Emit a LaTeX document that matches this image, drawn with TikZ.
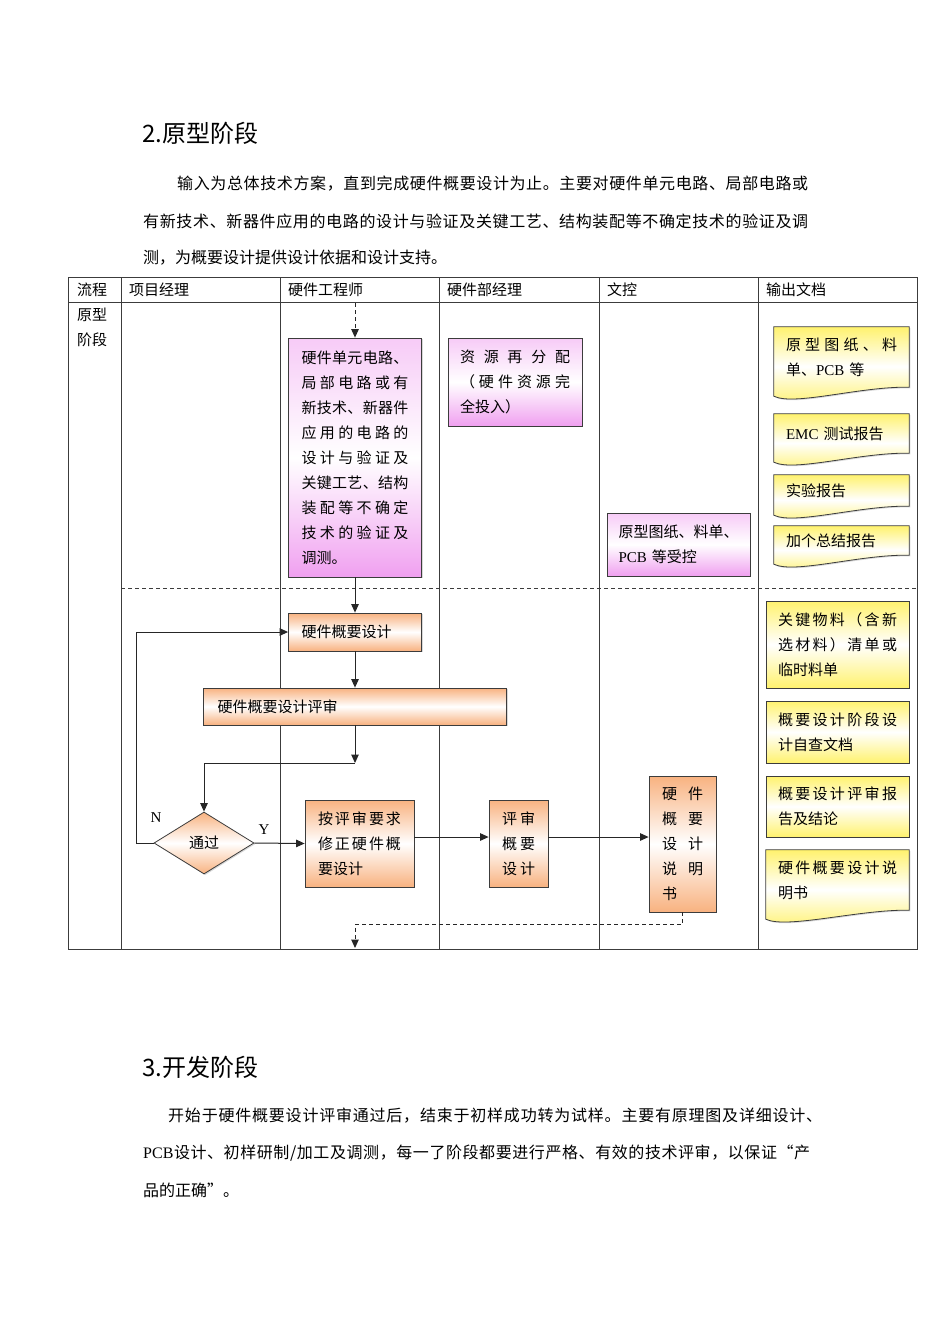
\documentclass[tikz,border=0pt]{standalone}
\usepackage{fontspec}
\setmainfont{Noto Sans CJK SC}
\newfontfamily\en{Liberation Serif}
\usetikzlibrary{arrows.meta,positioning,shapes.geometric,calc,shadows,backgrounds}

\definecolor{pinkc}{RGB}{240,160,240}
\definecolor{orangec}{RGB}{248,178,128}
\definecolor{yellowc}{RGB}{255,242,110}
\definecolor{linec}{RGB}{60,60,60}

% spread the characters of one line over a given width
\def\sprEnd{\sprStop}
\let\sprStop\relax
\def\spr#1{\sprA#1\sprStop}
\def\sprA#1{\def\sprT{#1}\ifx\sprT\sprEnd\else#1\expandafter\sprB\fi}
\def\sprB#1{\def\sprT{#1}\ifx\sprT\sprEnd\else\hfil#1\expandafter\sprB\fi}
\newcommand\jl[1]{\makebox[\linewidth][s]{\spr{#1}}}

\tikzset{
  tbl/.style={line width=0.8pt, draw=linec},
  hd/.style={anchor=west, inner sep=0pt, font=\fontsize{15pt}{25pt}\selectfont},
  bx/.style={rectangle, draw=linec, line width=0.8pt, align=left, inner sep=0pt,
             font=\fontsize{15pt}{25pt}\selectfont,
             drop shadow={shadow xshift=1.2pt, shadow yshift=-1.2pt, opacity=0.3}},
  pbox/.style={bx, top color=pinkc!55, bottom color=pinkc, middle color=white},
  obox/.style={bx, top color=orangec, bottom color=orangec, middle color=white},
  ybox/.style={bx, top color=yellowc, bottom color=yellowc, middle color=white},
  ydoc/.style={rectangle, align=left, inner sep=0pt, font=\fontsize{15pt}{25pt}\selectfont},
  docln/.style={draw=linec, line width=0.8pt, top color=yellowc, bottom color=yellowc, middle color=white,
                drop shadow={shadow xshift=1.2pt, shadow yshift=-1.2pt, opacity=0.3}},
  dec/.style={diamond, aspect=1.6, draw=linec, line width=0.8pt, inner sep=0pt,
              top color=orangec, bottom color=orangec, middle color=white,
              font=\fontsize{15pt}{15pt}\selectfont,
              drop shadow={shadow xshift=1.2pt, shadow yshift=-1.2pt, opacity=0.3}},
  ar/.style={-{Triangle[length=8.5pt,width=7.5pt]}, line width=1pt, draw=black!85},
  dar/.style={ar, dash pattern=on 4pt off 3pt},
  yn/.style={inner sep=0pt, font=\en\fontsize{15pt}{15pt}\selectfont},
  para/.style={anchor=west, inner sep=0pt, font=\fontsize{16pt}{16pt}\selectfont},
  ttl/.style={anchor=west, inner sep=0pt, font=\fontsize{24pt}{24pt}\selectfont},
}

% document shape with a wavy lower edge, drawn round a named node
\newcommand\docwave[1]{%
  \draw[docln] (#1.north west) -- (#1.north east) -- (#1.south east)
    .. controls ($(#1.south east)+(-49,-1)$) and ($(#1.south west)+(21,19)$)
    .. ($(#1.south west)+(0,9)$) -- cycle;}

\begin{document}
\begin{tikzpicture}[x=1pt, y=-1pt]
\useasboundingbox (0,0) rectangle (950,1344);

% page text
\node[ttl] (h2) at (142,133) {2.原型阶段};
\node[para] (p1a) at (177,184) {\makebox[631pt][s]{\spr{输入为总体技术方案，直到完成硬件概要设计为止。主要对硬件单元电路、局部电路或}}};
\node[para] (p1b) at (143,221) {\makebox[665pt][s]{\spr{有新技术、新器件应用的电路的设计与验证及关键工艺、结构装配等不确定技术的验证及调}}};
\node[para] (p1c) at (143,258) {测，为概要设计提供设计依据和设计支持。};

% table
\draw[tbl] (68,277) rectangle (917,949);
\draw[tbl] (68,302) -- (917,302);
\foreach \cx in {121,280,439,599,758} \draw[tbl] (\cx,277) -- (\cx,949);
\draw[tbl, dash pattern=on 4pt off 3pt] (121,588) -- (917,588);

\node[hd] (c0) at (77,290) {流程};
\node[hd] (c1) at (129,290) {项目经理};
\node[hd] (c2) at (288,290) {硬件工程师};
\node[hd] (c3) at (447,290) {硬件部经理};
\node[hd] (c4) at (607,290) {文控};
\node[hd] (c5) at (766,290) {输出文档};
\node[hd] (ph1) at (77,315) {原型};
\node[hd] (ph2) at (77,340) {阶段};

% upper part
\node[pbox, minimum width=133pt, minimum height=239pt, text width=107pt] (unit) at (355,457.5)
  {\jl{硬件单元电路、}\\ \jl{局部电路或有}\\ \jl{新技术、新器件}\\ \jl{应用的电路的}\\ \jl{设计与验证及}\\
   \jl{关键工艺、结构}\\ \jl{装配等不确定}\\ \jl{技术的验证及}\\ 调测。};
\node[pbox, minimum width=134pt, minimum height=88pt, text width=110pt] (res) at (515,382)
  {\jl{资源再分配}\\ \jl{（硬件资源完}\\ 全投入）};
\node[pbox, minimum width=143pt, minimum height=63pt, text width=120pt] (ctl) at (678.5,544.5)
  {\jl{原型图纸、料单、}\\ {\en PCB} 等受控};

\node[ydoc, minimum width=135pt, minimum height=60pt, text width=111pt] (o1) at (841.5,357)
  {\jl{原型图纸、料}\\ 单、{\en PCB} 等};
\node[ydoc, minimum width=135pt, minimum height=39pt, text width=111pt] (o2) at (841.5,433.5)
  {{\en EMC} 测试报告};
\node[ydoc, minimum width=135pt, minimum height=31pt, text width=111pt] (o3) at (841.5,490.5)
  {\raisebox{-4pt}{实验报告}};
\node[ydoc, minimum width=135pt, minimum height=29pt, text width=111pt] (o4) at (841.5,540.5)
  {\raisebox{-4pt}{加个总结报告}};

% lower part
\node[obox, minimum width=133pt, minimum height=38pt, text width=107pt] (design) at (355,632) {硬件概要设计};
\node[obox, minimum width=303pt, minimum height=37pt, text width=275pt] (review) at (355,706.5) {硬件概要设计评审};
\node[dec, minimum width=100pt, minimum height=62pt] (pass) at (204,843) {通过};
\node[obox, minimum width=109pt, minimum height=87pt, text width=83pt] (revise) at (359.5,843.5)
  {\jl{按评审要求}\\ \jl{修正硬件概}\\ 要设计};
\node[obox, minimum width=59pt, minimum height=87pt, text width=33pt] (check) at (518.5,843.5)
  {\jl{评审}\\ \jl{概要}\\ \jl{设计}};
\node[obox, minimum width=67pt, minimum height=136pt, text width=41pt] (spec) at (682.5,844)
  {\jl{硬件}\\ \jl{概要}\\ \jl{设计}\\ \jl{说明}\\ 书};

\node[ybox, minimum width=143pt, minimum height=87pt, text width=119pt] (o5) at (837.5,644.5)
  {\jl{关键物料（含新}\\ \jl{选材料）清单或}\\ 临时料单};
\node[ybox, minimum width=143pt, minimum height=62pt, text width=119pt] (o6) at (837.5,732)
  {\jl{概要设计阶段设}\\ 计自查文档};
\node[ybox, minimum width=143pt, minimum height=61pt, text width=119pt] (o7) at (837.5,806.5)
  {\jl{概要设计评审报}\\ 告及结论};
\node[ydoc, minimum width=143pt, minimum height=60pt, text width=119pt] (o8) at (837.5,880)
  {\jl{硬件概要设计说}\\ 明书};

\node[yn] (nlbl) at (156,818) {N};
\node[yn] (ylbl) at (264,830) {Y};

\coordinate (top) at (355,303);
\coordinate (join) at (355,763);
\coordinate (bot) at (355,948);

\draw[dar] (top) -- (unit.north);
\draw[ar] (unit.south) -- (design.north);
\draw[ar] (design.south) -- (review.north);
\draw[ar] (review.south) -- (join);
\draw[ar] (join) -| (pass.north);
\draw[ar] (pass.west) -- ++(-17,0) |- (design.west);
\draw[ar] (pass.east) -- (revise.west);
\draw[ar] ([yshift=6.5pt]revise.east) -- ([yshift=6.5pt]revise.east -| check.west);
\draw[ar] ([yshift=6.5pt]check.east) -- ([yshift=6.5pt]check.east -| spec.west);
\draw[dar] (spec.south) -- ++(0,12) -| (bot);

% second section
\node[ttl] (h3) at (142,1067) {3.开发阶段};
\node[para] (p2a) at (168,1116) {\makebox[654pt][s]{\spr{开始于硬件概要设计评审通过后，结束于初样成功转为试样。主要有原理图及详细设计、}}};
\node[para] (p2b) at (143,1153) {\makebox[667pt][s]{\spr{{{\en PCB}}设计、初样研制/加工及调测，每一了阶段都要进行严格、有效的技术评审，以保证“产}}};
\node[para] (p2c) at (143,1190) {品的正确”。};

\begin{scope}[on background layer]
  \fill[white] (0,0) rectangle (950,1344);
  \docwave{o1}
  \docwave{o2}
  \docwave{o3}
  \docwave{o4}
  \docwave{o8}
\end{scope}
\end{tikzpicture}
\end{document}
